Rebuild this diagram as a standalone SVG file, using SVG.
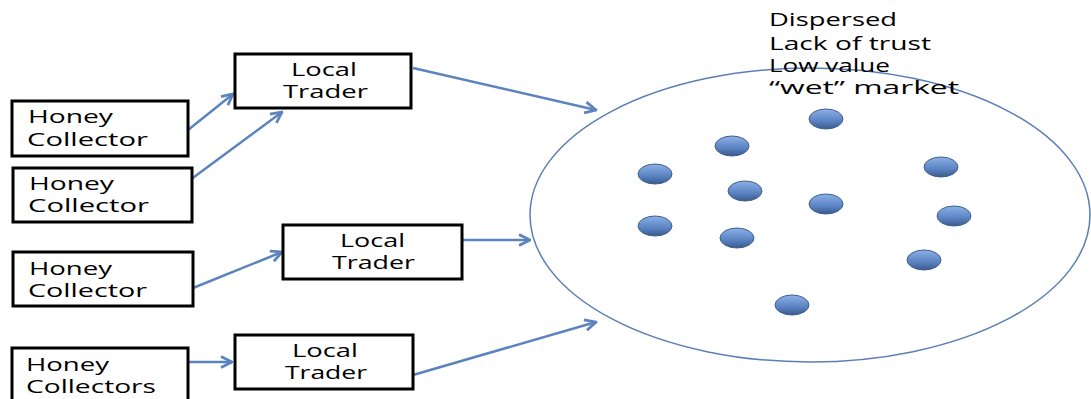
<svg xmlns="http://www.w3.org/2000/svg" width="1091" height="399" viewBox="0 0 1091 399">
<style>
.box{fill:#fff;stroke:#000;stroke-width:3}
.t{font-family:"Open Sans","Liberation Sans",sans-serif;font-size:18px;fill:#000}
.r{font-family:"Open Sans","Liberation Sans",sans-serif;font-size:19px;fill:#000}
.c{stroke:#5b83bd;stroke-width:2.5;fill:none;marker-end:url(#ah)}
.dot{fill:url(#g);stroke:#3f5f92;stroke-width:1}
</style>
<defs>
<marker id="ah" viewBox="0 0 10 10" refX="9" refY="5" markerWidth="5.5" markerHeight="5.5" orient="auto" markerUnits="strokeWidth">
<path d="M1,1 L9,5 L1,9" fill="none" stroke="#5b83bd" stroke-width="2"/>
</marker>
<linearGradient id="g" x1="0" y1="0" x2="0" y2="1">
<stop offset="0" stop-color="#8db0e6"/>
<stop offset="0.6" stop-color="#5b83c2"/>
<stop offset="1" stop-color="#3a5a8c"/>
</linearGradient>
</defs>
<g id="market">
<ellipse cx="810" cy="215" rx="280" ry="147" fill="#fff" stroke="#5b7fb5" stroke-width="1.5"/>
<ellipse class="dot" cx="826" cy="119" rx="17" ry="10"/>
<ellipse class="dot" cx="732" cy="146" rx="17" ry="10"/>
<ellipse class="dot" cx="655" cy="174" rx="17" ry="10"/>
<ellipse class="dot" cx="941" cy="167" rx="17" ry="10"/>
<ellipse class="dot" cx="745" cy="191" rx="17" ry="10"/>
<ellipse class="dot" cx="826" cy="204" rx="17" ry="10"/>
<ellipse class="dot" cx="655" cy="226" rx="17" ry="10"/>
<ellipse class="dot" cx="737" cy="238" rx="17" ry="10"/>
<ellipse class="dot" cx="954" cy="216" rx="17" ry="10"/>
<ellipse class="dot" cx="924" cy="260" rx="17" ry="10"/>
<ellipse class="dot" cx="792" cy="305" rx="17" ry="10"/>
<text class="r" x="769" y="26" textLength="128" lengthAdjust="spacingAndGlyphs">Dispersed</text>
<text class="r" x="769" y="50" textLength="162" lengthAdjust="spacingAndGlyphs">Lack of trust</text>
<text class="r" x="769" y="72" textLength="121" lengthAdjust="spacingAndGlyphs">Low value</text>
<text class="r" x="769" y="94" textLength="190" lengthAdjust="spacingAndGlyphs">“wet” market</text>
</g>
<g id="connectors">
<line class="c" x1="188" y1="130" x2="233" y2="94"/>
<line class="c" x1="190" y1="180" x2="282" y2="112"/>
<line class="c" x1="413" y1="68" x2="596" y2="110"/>
<line class="c" x1="193" y1="288" x2="282" y2="252"/>
<line class="c" x1="463" y1="240" x2="530" y2="240"/>
<line class="c" x1="188" y1="362" x2="232" y2="362"/>
<line class="c" x1="413" y1="375" x2="596" y2="322"/>
</g>
<g id="trader1"><rect class="box" x="235" y="54" width="176" height="54"/>
<text class="t" x="291" y="76" textLength="66" lengthAdjust="spacingAndGlyphs">Local</text><text class="t" x="283" y="98" textLength="85" lengthAdjust="spacingAndGlyphs">Trader</text></g>
<g id="trader2"><rect class="box" x="283" y="225" width="179" height="54"/>
<text class="t" x="340" y="247" textLength="65" lengthAdjust="spacingAndGlyphs">Local</text><text class="t" x="332" y="269" textLength="83" lengthAdjust="spacingAndGlyphs">Trader</text></g>
<g id="trader3"><rect class="box" x="235" y="335" width="178" height="54"/>
<text class="t" x="292" y="357" textLength="66" lengthAdjust="spacingAndGlyphs">Local</text><text class="t" x="285" y="379" textLength="82" lengthAdjust="spacingAndGlyphs">Trader</text></g>
<g id="collector1"><rect class="box" x="12" y="101" width="176" height="55"/>
<text class="t" x="28" y="123" textLength="85" lengthAdjust="spacingAndGlyphs">Honey</text><text class="t" x="27" y="146" textLength="121" lengthAdjust="spacingAndGlyphs">Collector</text></g>
<g id="collector2"><rect class="box" x="13" y="168" width="179" height="54"/>
<text class="t" x="29" y="190" textLength="85" lengthAdjust="spacingAndGlyphs">Honey</text><text class="t" x="28" y="212" textLength="121" lengthAdjust="spacingAndGlyphs">Collector</text></g>
<g id="collector3"><rect class="box" x="13" y="252" width="180" height="54"/>
<text class="t" x="29" y="275" textLength="83" lengthAdjust="spacingAndGlyphs">Honey</text><text class="t" x="28" y="297" textLength="119" lengthAdjust="spacingAndGlyphs">Collector</text></g>
<g id="collector4"><rect class="box" x="12" y="348" width="176" height="60"/>
<text class="t" x="26" y="371" textLength="83" lengthAdjust="spacingAndGlyphs">Honey</text><text class="t" x="26" y="393" textLength="130" lengthAdjust="spacingAndGlyphs">Collectors</text></g>
</svg>
